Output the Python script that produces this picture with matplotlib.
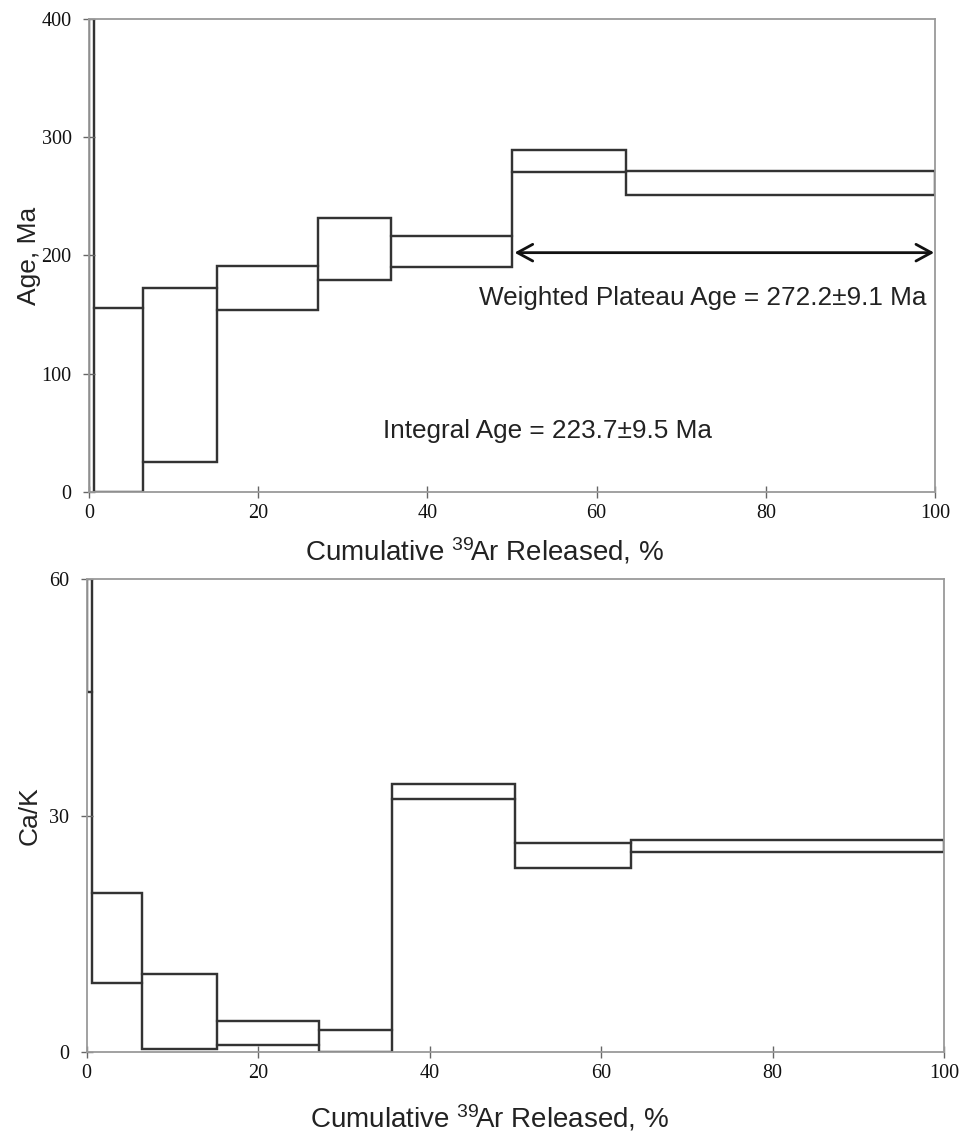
import matplotlib
matplotlib.use("Agg")
import matplotlib.pyplot as plt
import numpy as np

# ---- data ----
cum_edges = [0, 0.65, 6.4, 15.15, 27.05, 35.65, 50.0, 63.5, 100]
age_upper = [520, 156, 172.5, 191, 231.4, 216.2, 289, 271.2]
age_lower = [-100, 0, 25.6, 154, 179, 190.6, 270.6, 250.9]
cak_upper = [70, 20.2, 9.97, 4.0, 2.8, 34.07, 26.5, 26.93]
cak_lower = [45.7, 8.83, 0.46, 0.89, 0.0, 32.13, 23.4, 25.37]
plateau_range = [50.3, 99.9]
plateau_arrow_y = 202.4
age_ticks = [0, 100, 200, 300, 400]
cak_ticks = [0, 30, 60]
x_ticks = [0, 20, 40, 60, 80, 100]

plt.rcParams['mathtext.fontset'] = 'custom'
plt.rcParams['mathtext.rm'] = 'Liberation Sans'
plt.rcParams['mathtext.it'] = 'Liberation Sans'

W, H = 961, 1136
fig = plt.figure(figsize=(W / 100, H / 100), dpi=100)

ax1 = fig.add_axes([89 / W, 1 - 492 / H, (935 - 89) / W, (492 - 19) / H])
ax2 = fig.add_axes([86.7 / W, 1 - 1052.3 / H, (944 - 86.7) / W, (1052.3 - 579.3) / H])

line_col = '#333333'
spine_col = '#9a9a9a'
sans = 'Liberation Sans'
serif = 'Liberation Serif'
xlab = r'Cumulative $^{39}\!$Ar Released, %'

def style(ax, yticks, ylim):
    ax.set_xlim(0, 100)
    ax.set_ylim(*ylim)
    ax.set_xticks(x_ticks)
    ax.set_yticks(yticks)
    for s in ax.spines.values():
        s.set_color(spine_col)
        s.set_linewidth(1.3)
    ax.tick_params(direction='inout', length=9, width=1.0, color='#666666',
                   labelsize=14.5, labelcolor='#111111')
    ax.tick_params(axis='y', pad=8)
    ax.tick_params(axis='x', pad=4)
    for lab in ax.get_xticklabels() + ax.get_yticklabels():
        lab.set_fontfamily(serif)

def draw_steps(ax, upper, lower):
    up = np.asarray(upper, float)
    lo = np.asarray(lower, float)
    e = np.asarray(cum_edges, float)
    ax.bar(e[:-1], up - lo, width=np.diff(e), bottom=lo, align='edge',
           fill=False, edgecolor=line_col, linewidth=1.6)
    ax.stairs(up, e, baseline=lo, fill=False, color=line_col, lw=1.6)

draw_steps(ax1, age_upper, age_lower)
style(ax1, age_ticks, (0, 400))
ax1.set_ylabel('Age, Ma', fontfamily=sans, fontsize=19, color='#222222')
ax1.yaxis.set_label_coords(-0.057, 0.5)
ax1.set_xlabel(xlab, fontfamily=sans, fontsize=20, color='#222222')
ax1.xaxis.set_label_coords(0.468, -0.093)

ax1.annotate('', xy=(plateau_range[0], plateau_arrow_y),
             xytext=(plateau_range[1], plateau_arrow_y),
             arrowprops=dict(arrowstyle='<->,head_length=0.55,head_width=0.3',
                             mutation_scale=20, lw=2.0, color='#111111',
                             shrinkA=0, shrinkB=0))
ax1.text(99, 164, 'Weighted Plateau Age = 272.2\u00b19.1 Ma', ha='right', va='center',
         fontfamily=sans, fontsize=18.8, color='#222222')
ax1.text(34.8, 52, 'Integral Age = 223.7\u00b19.5 Ma', ha='left', va='center',
         fontfamily=sans, fontsize=18.8, color='#222222')

draw_steps(ax2, cak_upper, cak_lower)
style(ax2, cak_ticks, (0, 60))
ax2.set_ylabel('Ca/K', fontfamily=sans, fontsize=19, color='#222222')
ax2.yaxis.set_label_coords(-0.052, 0.5)
ax2.set_xlabel(xlab, fontfamily=sans, fontsize=20, color='#222222')
ax2.xaxis.set_label_coords(0.470, -0.106)

fig.savefig('out.png', dpi=100)
